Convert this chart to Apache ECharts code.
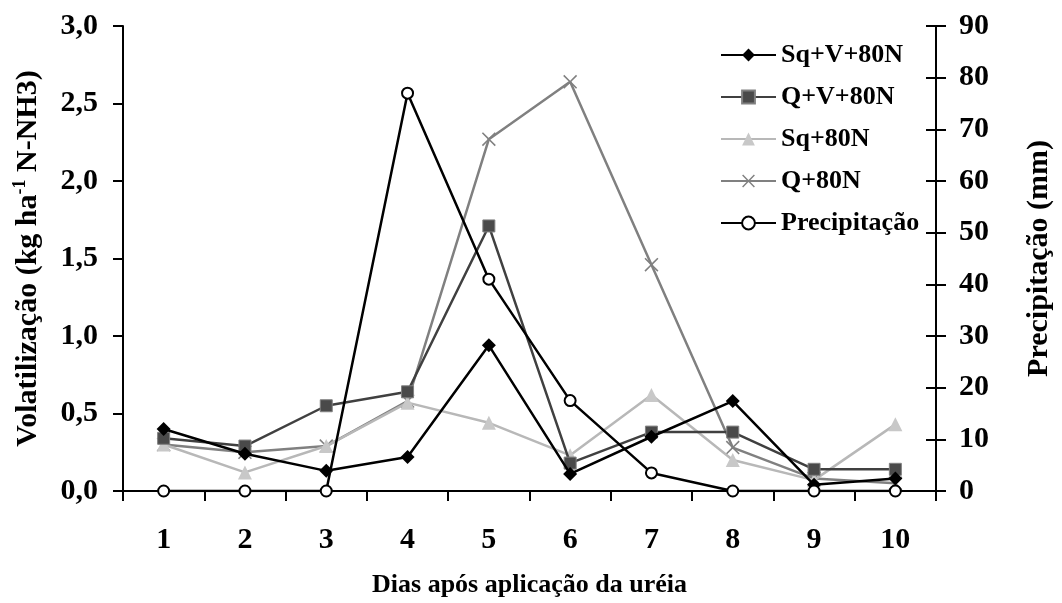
<!DOCTYPE html>
<html>
<head>
<meta charset="utf-8">
<script src="https://cdn.jsdelivr.net/npm/echarts@6/dist/echarts.min.js"></script>
<style>
  html, body { margin: 0; padding: 0; background: #fff; }
  #chart { width: 1062px; height: 603px; }
</style>
</head>
<body>
<div id="chart"></div>
<script>
// Days after urea application
const days = ['1', '2', '3', '4', '5', '6', '7', '8', '9', '10'];

// NH3-N volatilization (kg ha-1) per treatment
const sqV80N = [0.40, 0.24, 0.13, 0.22, 0.94, 0.11, 0.35, 0.58, 0.04, 0.08];
const qV80N  = [0.34, 0.29, 0.55, 0.64, 1.71, 0.18, 0.38, 0.38, 0.14, 0.14];
const sq80N  = [0.30, 0.12, 0.29, 0.57, 0.44, 0.23, 0.62, 0.20, 0.07, 0.43];
const q80N   = [0.30, 0.25, 0.29, 0.58, 2.27, 2.64, 1.46, 0.28, 0.08, 0.05];

// Rainfall (mm)
const precip = [0, 0, 0, 77, 41, 17.5, 3.5, 0, 0, 0];

const FONT = "'Liberation Serif', 'Times New Roman', serif";
const crossPath = 'path://M0,0.8L0.8,0L5,4.2L9.2,0L10,0.8L5.8,5L10,9.2L9.2,10L5,5.8L0.8,10L0,9.2L4.2,5Z';

const chart = echarts.init(document.getElementById('chart'), null, { renderer: 'canvas' });

const tickText = { fontFamily: FONT, fontWeight: 'bold', fontSize: 30, color: '#000' };
const titleText = { fontFamily: FONT, fontWeight: 'bold', fontSize: 30, color: '#000' };

chart.setOption({
  animation: false,
  backgroundColor: '#fff',
  grid: { left: 123, right: 117, top: 26, bottom: 111, containLabel: false },
  legend: {
    orient: 'vertical',
    left: 715,
    top: 37,
    itemWidth: 55,
    itemHeight: 16,
    itemGap: 16,
    textStyle: { fontFamily: FONT, fontWeight: 'bold', fontSize: 26, color: '#000' },
    data: ['Sq+V+80N', 'Q+V+80N', 'Sq+80N', 'Q+80N', 'Precipitação']
  },
  xAxis: {
    type: 'category',
    data: days,
    boundaryGap: true,
    axisLine: { lineStyle: { color: '#000', width: 2 } },
    axisTick: { show: true, inside: false, length: 10, lineStyle: { color: '#000', width: 2 } },
    axisLabel: Object.assign({ margin: 34 }, tickText),
    name: 'Dias após aplicação da uréia',
    nameLocation: 'middle',
    nameGap: 81,
    nameTextStyle: { fontFamily: FONT, fontWeight: 'bold', fontSize: 26, color: '#000' }
  },
  yAxis: [
    {
      type: 'value',
      min: 0, max: 3, interval: 0.5,
      position: 'left',
      axisLine: { show: true, lineStyle: { color: '#000', width: 2 } },
      axisTick: { show: true, inside: false, length: 10, lineStyle: { color: '#000', width: 2 } },
      splitLine: { show: false },
      axisLabel: Object.assign({
        margin: 25,
        formatter: v => v.toFixed(1).replace('.', ',')
      }, tickText),
      name: '{a|Volatilização (kg ha}{s|-1}{a| N-NH3)}',
      nameLocation: 'middle',
      nameGap: 78,
      nameRotate: 90,
      nameTextStyle: {
        rich: {
          a: Object.assign({ lineHeight: 34 }, titleText),
          s: { fontFamily: FONT, fontWeight: 'bold', fontSize: 18, color: '#000', lineHeight: 18, verticalAlign: 'top' }
        }
      }
    },
    {
      type: 'value',
      min: 0, max: 90, interval: 10,
      position: 'right',
      axisLine: { show: true, lineStyle: { color: '#000', width: 2 } },
      axisTick: { show: true, inside: false, length: 10, lineStyle: { color: '#000', width: 2 } },
      splitLine: { show: false },
      axisLabel: Object.assign({ margin: 23 }, tickText),
      name: 'Precipitação (mm)',
      nameLocation: 'middle',
      nameGap: 88,
      nameRotate: 90,
      nameTextStyle: titleText
    },
    {
      // inner half of the crossing ticks on the rainfall axis
      type: 'value',
      min: 0, max: 90, interval: 10,
      position: 'right',
      axisLine: { show: false },
      axisTick: { show: true, inside: true, length: 10, lineStyle: { color: '#000', width: 2 } },
      axisLabel: { show: false },
      splitLine: { show: false }
    }
  ],
  series: [
    {
      name: 'Q+80N', type: 'line', yAxisIndex: 0, data: q80N,
      symbol: crossPath, symbolSize: 14,
      lineStyle: { color: '#808080', width: 2.5 },
      itemStyle: { color: '#808080' }, z: 2
    },
    {
      name: 'Sq+80N', type: 'line', yAxisIndex: 0, data: sq80N,
      symbol: 'triangle', symbolSize: 14,
      lineStyle: { color: '#b8b8b8', width: 2.5 },
      itemStyle: { color: '#c8c8c8' }, z: 3
    },
    {
      name: 'Q+V+80N', type: 'line', yAxisIndex: 0, data: qV80N,
      symbol: 'rect', symbolSize: 12,
      lineStyle: { color: '#404040', width: 2.5 },
      itemStyle: { color: '#4a4a4a', borderColor: '#808080', borderWidth: 1 }, z: 4
    },
    {
      name: 'Sq+V+80N', type: 'line', yAxisIndex: 0, data: sqV80N,
      symbol: 'diamond', symbolSize: 14,
      lineStyle: { color: '#000', width: 2.5 },
      itemStyle: { color: '#000' }, z: 5
    },
    {
      name: 'Precipitação', type: 'line', yAxisIndex: 1, data: precip,
      symbol: 'circle', symbolSize: 11, showAllSymbol: true,
      lineStyle: { color: '#000', width: 2.5 },
      itemStyle: { color: '#fff', borderColor: '#000', borderWidth: 2 }, z: 6
    }
  ]
});
</script>
</body>
</html>
